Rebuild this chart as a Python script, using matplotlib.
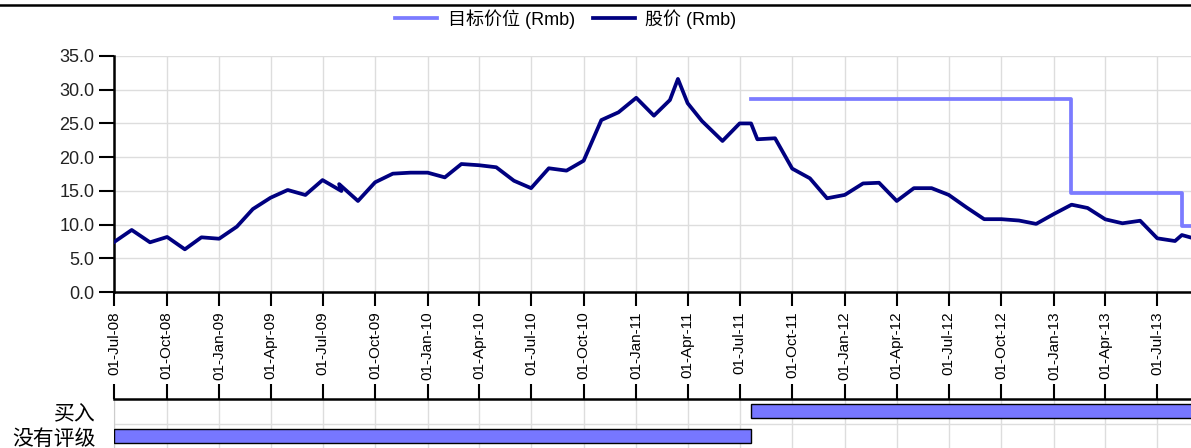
import numpy as np
import pandas as pd
import matplotlib
matplotlib.use("Agg")
import matplotlib.pyplot as plt
import matplotlib.dates as mdates
from matplotlib.lines import Line2D

plt.rcParams['font.family'] = ['Liberation Sans Narrow', 'Liberation Sans', 'Noto Sans CJK SC', 'DejaVu Sans']

# stock price (Rmb)
price_dates = ["2008-07-01", "2008-08-01", "2008-09-02", "2008-10-02", "2008-11-02", "2008-12-01",
               "2009-01-01", "2009-02-01", "2009-03-01", "2009-04-01", "2009-05-01", "2009-06-01",
               "2009-07-01", "2009-08-03", "2009-07-30", "2009-09-01", "2009-10-01", "2009-11-01",
               "2009-12-02", "2010-01-01", "2010-01-31", "2010-03-01", "2010-04-01", "2010-05-01",
               "2010-06-01", "2010-07-01", "2010-08-01", "2010-09-01", "2010-10-01", "2010-11-01",
               "2010-12-01", "2011-01-01", "2011-02-01", "2011-03-01", "2011-03-15", "2011-04-01",
               "2011-04-26", "2011-06-01", "2011-07-01", "2011-07-21", "2011-08-01", "2011-09-01",
               "2011-10-01", "2011-11-01", "2011-12-01", "2012-01-01", "2012-02-02", "2012-03-01",
               "2012-04-01", "2012-05-01", "2012-06-01", "2012-07-01", "2012-08-01", "2012-09-01",
               "2012-10-01", "2012-11-01", "2012-12-01", "2013-01-01", "2013-02-01", "2013-03-01",
               "2013-04-01", "2013-05-01", "2013-06-01", "2013-07-01", "2013-08-01", "2013-08-13",
               "2013-09-01"]
price_values = [7.4, 9.2, 7.37, 8.16, 6.33, 8.11,
                7.9, 9.69, 12.3, 13.98, 15.13, 14.39,
                16.6, 14.98, 16.0, 13.5, 16.27, 17.55,
                17.7, 17.7, 17.0, 18.98, 18.8, 18.5,
                16.5, 15.4, 18.35, 18.0, 19.47, 25.5,
                26.65, 28.8, 26.15, 28.47, 31.6, 28.0,
                25.36, 22.4, 25.0, 25.0, 22.65, 22.8,
                18.3, 16.86, 13.9, 14.4, 16.1, 16.2,
                13.5, 15.4, 15.4, 14.4, 12.55, 10.8,
                10.8, 10.6, 10.1, 11.57, 12.95, 12.46,
                10.78, 10.19, 10.57, 7.96, 7.56, 8.45,
                8.0]

# target price (Rmb), step changes
target_dates = ["2011-07-21", "2013-01-31", "2013-08-13", "2013-09-01"]
target_values = [28.6, 14.7, 9.8, 9.8]

# rating periods
rating_names = ["没有评级", "买入"]
rating_start = ["2008-07-01", "2011-07-21"]
rating_end = ["2011-07-21", "2013-09-01"]

tick_dates = pd.date_range("2008-07-01", "2013-07-01", freq="3MS")
x_start = pd.Timestamp("2008-07-01")
x_end = pd.Timestamp("2013-08-29")

W, H = 1191, 448
fig = plt.figure(figsize=(W / 100, H / 100), dpi=100)

ax = fig.add_axes([114 / W, 1 - 292 / H, 1 - 114 / W, (292 - 56) / H])
ax2 = fig.add_axes([114 / W, 0, 1 - 114 / W, (448 - 399) / H])

pd_dates = pd.to_datetime(price_dates)
td = pd.to_datetime(target_dates)

ax.step(td, target_values, where='post', color='#7b7bff', lw=2.7, label='目标价位 (Rmb)', zorder=3)
ax.plot(pd_dates, price_values, color='#000080', lw=2.7, label='股价 (Rmb)', zorder=4)

ax.set_xlim(x_start, x_end)
ax.set_ylim(0, 35)
ax.set_yticks(np.arange(0, 36, 5))
ax.yaxis.set_major_formatter(matplotlib.ticker.FormatStrFormatter('%.1f'))
ax.set_xticks(tick_dates)
ax.xaxis.set_major_formatter(mdates.DateFormatter('%d-%b-%y'))
ax.tick_params(axis='x', rotation=90, labelsize=11, length=10, width=1.5, pad=4)
ax.tick_params(axis='y', labelsize=13, length=11, width=1.5, pad=3, colors='#222222')
ax.tick_params(axis='both', color='black')
for lab in ax.get_xticklabels():
    lab.set_verticalalignment('top')
ax.grid(True, color='#dddddd', lw=1)
ax.set_axisbelow(True)
for s in ['top', 'right']:
    ax.spines[s].set_visible(False)
for s in ['left', 'bottom']:
    ax.spines[s].set_linewidth(1.8)

# rating panel
for i, name in enumerate(rating_names):
    s = pd.Timestamp(rating_start[i])
    e = pd.Timestamp(rating_end[i])
    ax2.barh(i, e - s, left=s, height=0.56, color='#7777ff', edgecolor='black', lw=1, zorder=3)
ax2.set_xlim(x_start, x_end)
ax2.set_ylim(-0.48, 1.48)
ax2.set_yticks([0, 1])
ax2.set_yticklabels(rating_names, fontsize=15, family=['Noto Sans CJK SC'])
ax2.set_xticks(tick_dates)
ax2.xaxis.tick_top()
ax2.tick_params(axis='x', top=True, length=11, width=1.5, labeltop=False, labelbottom=False, bottom=False)
ax2.tick_params(axis='y', which='both', length=0, pad=13)
ax2.set_yticks([0.5], minor=True)
ax2.grid(True, which='major', axis='x', color='#dddddd', lw=1)
ax2.grid(True, which='minor', axis='y', color='#dddddd', lw=1)
ax2.set_axisbelow(True)
ax2.spines['top'].set_linewidth(1.8)
ax2.spines['left'].set_color('#cccccc')
for s in ['right', 'bottom']:
    ax2.spines[s].set_visible(False)

fig.legend(loc='center', bbox_to_anchor=(566 / W, 1 - 19 / H), ncol=2, frameon=False,
           fontsize=13, handlelength=2.3, columnspacing=1.0, handletextpad=0.6)

fig.add_artist(Line2D([0, 1], [1 - 5 / H, 1 - 5 / H], color='black', lw=1.8, transform=fig.transFigure))

fig.savefig("out.png", dpi=100)
